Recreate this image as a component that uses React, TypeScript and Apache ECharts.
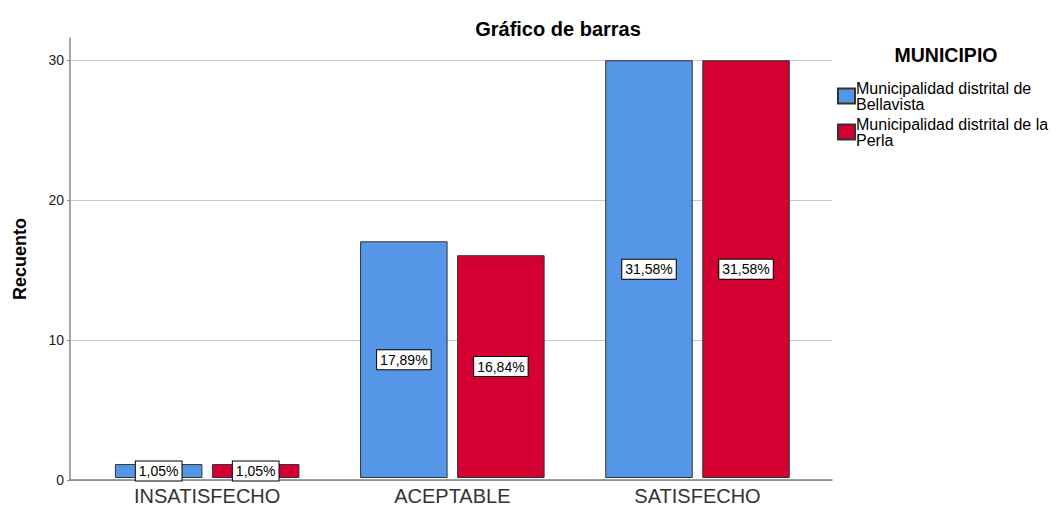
import React, { useEffect, useRef } from "react";
import * as echarts from "echarts";

const categories = ["INSATISFECHO", "ACEPTABLE", "SATISFECHO"];
const seriesNames = [
  "Municipalidad distrital de\nBellavista",
  "Municipalidad distrital de la\nPerla",
];
const bellavista = [1, 17, 30];
const perla = [1, 16, 30];
const bellavistaPct = ["1,05%", "17,89%", "31,58%"];
const perlaPct = ["1,05%", "16,84%", "31,58%"];
const yTicks = [0, 10, 20, 30];

const FONT = "Arial, 'Liberation Sans', sans-serif";
const BLUE = "#5596e6";
const RED = "#d50032";

export default function App() {
  const ref = useRef<HTMLDivElement>(null);
  useEffect(() => {
    if (!ref.current) return;
    const chart = echarts.init(ref.current, undefined, { renderer: "svg" });
    const yMax = 31.6;
    const labelStyle = (pcts: string[]) => ({
      show: true,
      position: "inside",
      formatter: (p: any) => pcts[p.dataIndex],
      color: "#000",
      fontFamily: FONT,
      fontSize: 14,
      lineHeight: 14,
      backgroundColor: "#fff",
      borderColor: "#000",
      borderWidth: 1,
      padding: [3, 3, 2, 3],
    });
    chart.setOption({
      animation: false,
      textStyle: { fontFamily: FONT },
      title: {
        text: "Gráfico de barras",
        left: 553,
        top: 14,
        textAlign: "center",
        textStyle: { fontFamily: FONT, fontSize: 20, fontWeight: "bold", color: "#000" },
      },
      graphic: [
        {
          type: "text",
          x: 946,
          y: 45,
          style: {
            text: "MUNICIPIO",
            align: "center",
            fontFamily: FONT,
            fontSize: 19.5,
            fontWeight: "bold",
            fill: "#000",
          },
        },
      ],
      legend: {
        orient: "vertical",
        left: 832,
        top: 72,
        itemWidth: 17,
        itemHeight: 15,
        itemGap: -2,
        icon: "rect",
        textStyle: {
          fontFamily: FONT,
          fontSize: 16,
          lineHeight: 16,
          color: "#000",
          padding: [6, 0, 0, -4],
        },
        data: seriesNames,
      },
      grid: [
        { left: 70, right: 230, top: 38, bottom: 26 },
        { left: 84.6, right: 241.9, top: 38, bottom: 26 },
      ],
      xAxis: [
        {
          type: "category",
          gridIndex: 0,
          data: categories,
          axisLabel: { show: false },
          axisTick: { show: false },
          axisLine: { lineStyle: { color: "#808080", width: 1.5 } },
        },
        {
          type: "category",
          gridIndex: 1,
          data: categories,
          axisLine: { show: false },
          axisTick: { show: false },
          axisLabel: { fontFamily: FONT, fontSize: 20, color: "#333", margin: 8 },
        },
      ],
      yAxis: [
        {
          type: "value",
          gridIndex: 0,
          min: yTicks[0],
          max: yMax,
          interval: 10,
          name: "Recuento",
          nameLocation: "middle",
          nameRotate: 90,
          nameGap: 41.5,
          nameTextStyle: { fontFamily: FONT, fontSize: 18, fontWeight: "bold", color: "#000" },
          axisLine: { show: true, lineStyle: { color: "#888", width: 1.5 } },
          axisTick: { show: true, length: 3, lineStyle: { color: "#888" } },
          axisLabel: {
            showMaxLabel: false,
            fontFamily: FONT,
            fontSize: 14,
            color: "#222",
            margin: 6,
          },
          splitLine: { show: true, showMaxLine: false, lineStyle: { color: "#c8c8c8", width: 1 } },
        },
        {
          type: "value",
          gridIndex: 1,
          min: yTicks[0],
          max: yMax,
          interval: 10,
          show: false,
          splitLine: { show: false },
        },
      ],
      series: [
        {
          name: seriesNames[0],
          type: "bar",
          xAxisIndex: 1,
          yAxisIndex: 1,
          data: bellavista,
          barWidth: 87.5,
          barGap: "10.9%",
          itemStyle: { color: BLUE, borderColor: "#333", borderWidth: 1 },
          label: labelStyle(bellavistaPct),
        },
        {
          name: seriesNames[1],
          type: "bar",
          xAxisIndex: 1,
          yAxisIndex: 1,
          data: perla,
          barWidth: 87.5,
          barGap: "10.9%",
          itemStyle: { color: RED, borderColor: "#333", borderWidth: 1 },
          label: labelStyle(perlaPct),
        },
      ],
    });
    return () => chart.dispose();
  }, []);
  return <div ref={ref} style={{ width: 1062, height: 506, position: "absolute", left: 0, top: 0 }} />;
}
